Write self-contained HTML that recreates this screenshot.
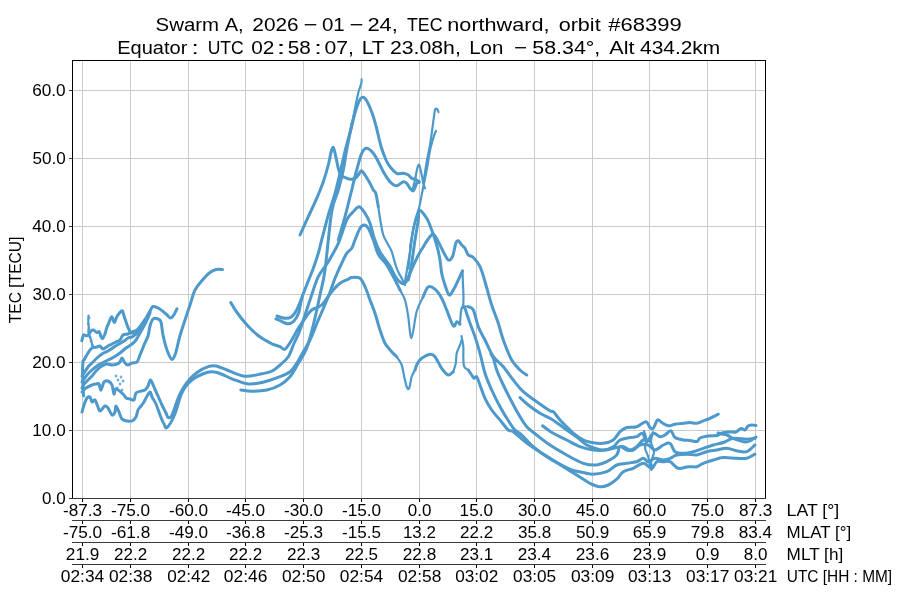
<!DOCTYPE html>
<html><head><meta charset="utf-8"><style>
html,body{margin:0;padding:0;background:#fff;overflow:hidden}
svg{display:block;will-change:transform}
text{font-family:"Liberation Sans", sans-serif;fill:#000}
</style></head><body>
<svg width="900" height="600" viewBox="0 0 900 600">
<rect width="900" height="600" fill="#fff"/>
<g stroke="#cbcbcb" stroke-width="1" shape-rendering="crispEdges">
<line x1="82.5" y1="60" x2="82.5" y2="498"/>
<line x1="130.5" y1="60" x2="130.5" y2="498"/>
<line x1="188.5" y1="60" x2="188.5" y2="498"/>
<line x1="245.5" y1="60" x2="245.5" y2="498"/>
<line x1="303.5" y1="60" x2="303.5" y2="498"/>
<line x1="361.5" y1="60" x2="361.5" y2="498"/>
<line x1="419.5" y1="60" x2="419.5" y2="498"/>
<line x1="476.5" y1="60" x2="476.5" y2="498"/>
<line x1="534.5" y1="60" x2="534.5" y2="498"/>
<line x1="592.5" y1="60" x2="592.5" y2="498"/>
<line x1="649.5" y1="60" x2="649.5" y2="498"/>
<line x1="707.5" y1="60" x2="707.5" y2="498"/>
<line x1="755.5" y1="60" x2="755.5" y2="498"/>
<line x1="72" y1="90.5" x2="765" y2="90.5"/>
<line x1="72" y1="158.5" x2="765" y2="158.5"/>
<line x1="72" y1="226.5" x2="765" y2="226.5"/>
<line x1="72" y1="294.5" x2="765" y2="294.5"/>
<line x1="72" y1="362.5" x2="765" y2="362.5"/>
<line x1="72" y1="430.5" x2="765" y2="430.5"/>
</g>
<g fill="none" stroke="#4d99cb" stroke-width="3.0" stroke-linejoin="round" stroke-linecap="round">
<path d="M81.8 340.8C82.1 339.8 82.8 335.8 83.5 335.0C84.2 334.2 85.2 335.8 86.0 335.8C86.8 335.8 87.7 335.8 88.5 335.0C89.3 334.2 90.2 331.8 91.0 331.0C91.8 330.2 92.5 329.8 93.5 330.0C94.5 330.2 95.8 332.2 96.8 332.5C97.8 332.8 98.6 331.0 99.3 331.7C100.0 332.4 100.4 335.6 101.0 336.7C101.6 337.8 102.0 338.9 102.7 338.3C103.4 337.7 104.5 335.1 105.2 333.3C105.9 331.5 106.1 329.4 106.8 327.5C107.5 325.6 108.5 323.5 109.3 321.7C110.1 319.9 111.0 316.6 111.8 316.7C112.6 316.8 113.5 322.5 114.3 322.5C115.1 322.5 116.0 318.2 116.8 316.7C117.6 315.2 118.4 314.3 119.3 313.3C120.2 312.3 121.5 310.2 122.3 310.8C123.1 311.4 123.4 314.1 124.3 316.7C125.2 319.3 126.7 324.2 127.7 326.7C128.7 329.2 129.2 330.6 130.2 331.7C131.2 332.8 132.2 333.6 133.5 333.3C134.8 333.0 137.2 330.6 138.0 330.0"/>
<path d="M84.0 360.0C84.7 358.8 86.7 355.0 88.0 353.0C89.3 351.0 90.5 349.0 92.0 348.0C93.5 347.0 95.7 347.3 97.0 347.0C98.3 346.7 99.0 345.7 100.0 346.0C101.0 346.3 101.7 349.0 103.0 349.0C104.3 349.0 106.5 346.8 108.0 346.0C109.5 345.2 110.7 344.7 112.0 344.0C113.3 343.3 114.7 342.7 116.0 342.0C117.3 341.3 118.8 341.2 120.0 340.0C121.2 338.8 121.7 336.0 123.0 335.0C124.3 334.0 126.5 334.5 128.0 334.0C129.5 333.5 130.3 332.8 132.0 332.0C133.7 331.2 135.7 331.3 138.0 329.0C140.3 326.7 144.0 321.0 146.0 318.0C148.0 315.0 148.8 312.9 150.0 311.0C151.2 309.1 151.5 306.9 153.0 306.5C154.5 306.1 156.8 307.2 159.0 308.5C161.2 309.8 164.0 312.4 166.0 314.0C168.0 315.6 169.3 318.0 170.8 318.0C172.2 318.0 173.5 315.3 174.5 313.8C175.5 312.2 176.6 309.6 177.0 308.8"/>
<path d="M82.0 376.0C82.3 375.5 83.0 374.5 84.0 373.0C85.0 371.5 86.7 368.7 88.0 367.0C89.3 365.3 90.5 364.5 92.0 363.0C93.5 361.5 95.3 359.5 97.0 358.0C98.7 356.5 100.2 355.2 102.0 354.0C103.8 352.8 106.0 352.2 108.0 351.0C110.0 349.8 112.2 348.2 114.0 347.0C115.8 345.8 117.3 345.0 119.0 344.0C120.7 343.0 122.5 342.0 124.0 341.0C125.5 340.0 126.7 338.7 128.0 338.0C129.3 337.3 130.3 338.0 132.0 337.0C133.7 336.0 135.7 334.8 138.0 332.0C140.3 329.2 144.0 323.3 146.0 320.0C148.0 316.7 149.3 313.3 150.0 312.0"/>
<path d="M82.0 382.0C82.8 380.8 85.3 377.0 87.0 375.0C88.7 373.0 90.3 371.5 92.0 370.0C93.7 368.5 95.3 367.2 97.0 366.0C98.7 364.8 100.2 364.0 102.0 363.0C103.8 362.0 106.0 361.0 108.0 360.0C110.0 359.0 112.0 358.2 114.0 357.0C116.0 355.8 118.0 354.5 120.0 353.0C122.0 351.5 124.0 349.5 126.0 348.0C128.0 346.5 130.3 345.3 132.0 344.0C133.7 342.7 134.7 341.8 136.0 340.0C137.3 338.2 138.3 336.0 140.0 333.0C141.7 330.0 144.3 325.3 146.0 322.0C147.7 318.7 149.3 314.5 150.0 313.0"/>
<path d="M83.0 361.0C82.9 362.8 82.5 368.2 82.5 372.0C82.5 375.8 82.8 380.0 83.0 384.0C83.2 388.0 83.4 394.0 83.5 396.0"/>
<path d="M82.0 388.0C82.3 387.3 83.0 385.3 84.0 384.0C85.0 382.7 86.7 381.3 88.0 380.0C89.3 378.7 90.5 377.7 92.0 376.0C93.5 374.3 95.3 371.7 97.0 370.0C98.7 368.3 100.3 367.0 102.0 366.0C103.7 365.0 105.3 364.2 107.0 364.0C108.7 363.8 110.3 365.0 112.0 365.0C113.7 365.0 115.7 364.5 117.0 364.0C118.3 363.5 119.2 363.0 120.0 362.0C120.8 361.0 121.2 357.8 122.0 358.0C122.8 358.2 124.0 361.8 125.0 363.0C126.0 364.2 126.8 365.0 128.0 365.0C129.2 365.0 130.5 363.5 132.0 363.0C133.5 362.5 135.7 363.3 137.0 362.0C138.3 360.7 138.8 357.8 140.0 355.0C141.2 352.2 142.7 348.2 144.0 345.0C145.3 341.8 147.0 339.2 148.0 336.0C149.0 332.8 149.2 328.8 150.0 326.0C150.8 323.2 151.7 320.2 153.0 319.0C154.3 317.8 156.7 318.5 158.0 319.0C159.3 319.5 160.2 319.3 161.0 322.0C161.8 324.7 162.0 330.3 163.0 335.0C164.0 339.7 165.5 345.9 167.0 350.0C168.5 354.1 170.5 359.1 172.0 359.5C173.5 359.9 174.5 356.2 175.8 352.5C177.0 348.8 178.0 342.9 179.5 337.5C181.0 332.1 183.2 325.4 185.0 320.0C186.8 314.6 188.3 310.0 190.0 305.0C191.7 300.0 192.9 294.2 195.0 290.0C197.1 285.8 200.0 282.9 202.5 280.0C205.0 277.1 207.7 274.2 210.0 272.5C212.3 270.8 214.2 270.0 216.2 269.5C218.3 269.0 221.5 269.5 222.5 269.5"/>
<path d="M82.0 392.0C82.7 391.3 84.3 389.2 86.0 388.0C87.7 386.8 90.3 385.7 92.0 385.0C93.7 384.3 94.8 384.2 96.0 384.0C97.2 383.8 98.2 383.0 99.0 384.0C99.8 385.0 100.2 390.3 101.0 390.0C101.8 389.7 102.8 383.5 104.0 382.0C105.2 380.5 106.7 380.5 108.0 381.0C109.3 381.5 111.0 382.8 112.0 385.0C113.0 387.2 113.3 393.3 114.0 394.0C114.7 394.7 114.5 389.0 116.0 389.0C117.5 389.0 121.3 392.5 123.0 394.0C124.7 395.5 124.8 397.2 126.0 398.0C127.2 398.8 128.7 398.7 130.0 399.0C131.3 399.3 133.0 401.0 134.0 400.0C135.0 399.0 134.8 394.5 136.0 393.0C137.2 391.5 139.5 391.5 141.0 391.0C142.5 390.5 143.8 390.8 145.0 390.0C146.2 389.2 147.1 387.7 148.0 386.0C148.9 384.3 149.5 379.8 150.5 380.0C151.5 380.2 152.8 384.3 154.0 387.0C155.2 389.7 156.7 393.0 158.0 396.0C159.3 399.0 160.7 402.2 162.0 405.0C163.3 407.8 165.0 410.9 166.0 413.0C167.0 415.1 167.2 417.2 168.2 417.5C169.2 417.8 170.1 418.8 172.0 415.0C173.9 411.2 177.0 400.4 179.5 395.0C182.0 389.6 184.1 386.2 187.0 382.5C189.9 378.8 193.2 375.2 197.0 372.5C200.8 369.8 206.2 367.3 209.5 366.2C212.8 365.2 214.1 365.6 217.0 366.2C219.9 366.9 222.4 368.3 227.0 370.0C231.6 371.7 238.7 375.6 244.5 376.2C250.3 376.9 257.4 374.6 262.0 373.8C266.6 372.9 269.0 372.5 272.0 371.0C275.0 369.5 277.3 367.4 280.0 365.0C282.7 362.6 285.9 360.4 288.3 356.7C290.7 353.0 292.2 347.4 294.2 343.0C296.1 338.6 297.4 337.2 300.0 330.0C302.6 322.8 306.9 308.9 310.0 300.0C313.1 291.1 315.2 283.1 318.3 276.7C321.4 270.3 325.0 267.3 328.3 261.7C331.6 256.1 335.2 250.2 338.3 243.3C341.4 236.4 344.2 225.3 346.7 220.0C349.2 214.7 351.2 213.9 353.3 211.7C355.4 209.5 357.2 206.4 359.2 206.7C361.1 207.0 363.2 210.5 365.0 213.3C366.8 216.1 368.4 219.0 370.0 223.3C371.6 227.6 372.8 234.2 374.5 239.0C376.2 243.8 377.4 247.5 380.0 252.0C382.6 256.5 387.3 261.8 389.8 265.8C392.3 269.8 393.3 273.3 395.0 276.0C396.7 278.7 398.3 280.8 400.0 282.0C401.7 283.2 403.3 284.8 405.0 283.3C406.7 281.9 408.1 277.5 410.0 273.3C411.9 269.1 414.5 262.7 416.7 258.3C418.9 253.9 420.7 250.7 423.3 246.7C425.9 242.7 430.0 235.0 432.5 234.2C435.0 233.4 436.5 238.8 438.3 241.7C440.1 244.6 441.6 248.6 443.3 251.7C445.0 254.8 446.8 259.2 448.3 260.0C449.8 260.8 451.2 259.5 452.5 256.7C453.8 253.9 454.8 246.0 455.8 243.3C456.8 240.7 457.3 240.5 458.3 240.8C459.3 241.1 460.6 243.8 461.7 245.0C462.8 246.2 463.9 246.6 465.0 248.3C466.1 250.0 466.9 253.5 468.3 255.0C469.7 256.5 471.4 255.6 473.3 257.5C475.2 259.4 478.1 262.7 480.0 266.7C481.9 270.7 483.1 275.3 485.0 281.7C486.9 288.1 489.5 298.1 491.7 305.0C493.9 311.9 496.4 317.5 498.3 323.3C500.2 329.1 501.1 333.9 503.3 340.0C505.5 346.1 508.9 355.0 511.7 360.0C514.5 365.0 517.5 367.5 520.0 370.0C522.5 372.5 525.6 374.2 526.7 375.0"/>
<path d="M82.0 412.0C82.3 410.8 83.2 407.3 84.0 405.0C84.8 402.7 86.0 399.3 87.0 398.0C88.0 396.7 89.2 396.3 90.0 397.0C90.8 397.7 91.2 401.5 92.0 402.0C92.8 402.5 94.0 399.2 95.0 400.0C96.0 400.8 97.2 405.2 98.0 407.0C98.8 408.8 98.8 411.2 100.0 411.0C101.2 410.8 103.7 406.5 105.0 406.0C106.3 405.5 106.8 406.5 108.0 408.0C109.2 409.5 110.8 414.3 112.0 415.0C113.2 415.7 114.3 413.5 115.0 412.0C115.7 410.5 115.3 406.0 116.0 406.0C116.7 406.0 118.0 409.8 119.0 412.0C120.0 414.2 120.7 417.5 122.0 419.0C123.3 420.5 125.3 420.7 127.0 421.0C128.7 421.3 130.5 421.7 132.0 421.0C133.5 420.3 135.0 418.8 136.0 417.0C137.0 415.2 137.2 411.8 138.0 410.0C138.8 408.2 140.0 407.3 141.0 406.0C142.0 404.7 143.2 403.3 144.0 402.0C144.8 400.7 145.0 399.7 146.0 398.0C147.0 396.3 149.0 392.2 150.0 392.0C151.0 391.8 151.0 395.0 152.0 397.0C153.0 399.0 154.7 401.0 156.0 404.0C157.3 407.0 158.7 411.7 160.0 415.0C161.3 418.3 162.8 421.9 164.0 424.0C165.2 426.1 165.2 429.0 167.0 427.5C168.8 426.0 172.0 420.8 174.5 415.0C177.0 409.2 179.1 398.3 182.0 392.5C184.9 386.7 187.8 383.3 192.0 380.0C196.2 376.7 202.8 373.8 207.0 372.5C211.2 371.2 212.8 371.5 217.0 372.5C221.2 373.5 227.0 376.9 232.0 378.8C237.0 380.6 242.0 383.1 247.0 383.8C252.0 384.4 256.5 383.7 262.0 382.5C267.5 381.3 275.3 378.5 280.0 376.7C284.7 374.9 287.2 373.9 290.0 371.7C292.8 369.5 294.5 366.6 296.7 363.3C298.9 360.0 301.1 355.6 303.3 351.7C305.5 347.8 307.5 345.3 310.0 340.0C312.5 334.7 315.2 327.2 318.3 320.0C321.4 312.8 325.5 303.6 328.3 296.7C331.1 289.8 332.8 283.9 335.0 278.3C337.2 272.7 339.8 267.5 341.7 263.3C343.6 259.1 345.0 255.8 346.7 253.3C348.4 250.8 350.3 250.5 351.7 248.3C353.1 246.1 353.6 243.3 355.0 240.0C356.4 236.7 358.5 230.8 360.0 228.3C361.5 225.8 362.8 225.0 364.2 225.0C365.6 225.0 366.8 225.8 368.3 228.3C369.8 230.8 371.6 235.7 373.3 240.0C375.0 244.3 376.2 250.3 378.3 254.3C380.4 258.3 383.4 260.2 386.0 264.0C388.6 267.8 391.3 273.0 393.6 277.3C395.9 281.6 398.9 287.9 400.0 290.0"/>
<path d="M423.0 297.0C423.9 295.3 426.1 288.2 428.1 286.9C430.1 285.6 432.7 287.3 435.0 289.2C437.3 291.1 439.8 294.8 441.7 298.3C443.6 301.8 444.8 305.4 446.7 310.0C448.6 314.6 451.6 323.9 453.3 325.8C455.0 327.8 455.6 322.0 456.7 321.7C457.8 321.4 459.4 323.8 460.0 324.2"/>
<path d="M468.3 306.7C469.1 307.2 471.6 306.7 473.3 310.0C475.0 313.3 476.4 321.7 478.3 326.7C480.2 331.7 482.5 335.0 485.0 340.0C487.5 345.0 490.2 352.2 493.3 356.7C496.4 361.1 500.0 362.8 503.3 366.7C506.6 370.6 510.0 375.8 513.3 380.0C516.6 384.2 519.4 388.1 523.3 391.7C527.2 395.3 532.2 398.5 536.7 401.7C541.2 404.9 547.2 409.1 550.0 410.8C552.8 412.5 551.6 410.2 553.3 411.7C555.0 413.2 557.5 417.2 560.0 420.0C562.5 422.8 566.1 426.1 568.3 428.3C570.5 430.5 570.8 431.4 573.3 433.3C575.8 435.2 580.2 438.5 583.3 440.0C586.4 441.5 588.4 441.9 591.7 442.5C595.0 443.1 599.7 443.7 603.3 443.3C606.9 442.9 610.5 441.9 613.3 440.0C616.1 438.1 617.8 433.8 620.0 431.7C622.2 429.6 623.9 428.3 626.7 427.5C629.5 426.7 633.5 427.7 636.7 426.7C639.9 425.7 643.6 421.6 645.8 421.7C648.0 421.8 648.8 426.4 650.0 427.5C651.2 428.6 652.0 429.6 653.3 428.3C654.5 427.1 656.1 421.0 657.5 420.0C658.9 419.0 659.9 421.5 661.7 422.5C663.5 423.5 666.1 425.5 668.3 425.8C670.5 426.1 672.5 424.6 675.0 424.2C677.5 423.8 680.8 423.6 683.3 423.3C685.8 423.0 687.8 422.5 690.0 422.5C692.2 422.5 694.5 423.6 696.7 423.3C698.9 423.0 701.1 421.6 703.3 420.8C705.5 420.0 707.5 419.4 710.0 418.3C712.5 417.2 716.9 414.9 718.3 414.2"/>
<path d="M240.8 390.0C242.6 390.2 247.6 391.2 252.0 391.2C256.4 391.2 262.3 391.0 267.0 390.0C271.7 389.0 276.2 387.2 280.0 385.0C283.8 382.8 286.9 380.3 290.0 376.7C293.1 373.1 295.5 368.0 298.3 363.3C301.1 358.6 304.2 354.7 306.7 348.3C309.2 341.9 311.1 333.9 313.3 325.0C315.5 316.1 318.1 304.2 320.0 295.0C321.9 285.8 323.1 283.9 325.0 270.0C326.9 256.1 329.5 225.0 331.7 211.7C333.9 198.4 336.4 196.9 338.3 190.0C340.2 183.1 341.9 176.7 343.3 170.0C344.7 163.3 345.2 157.8 346.7 150.0C348.1 142.2 351.1 127.8 352.0 123.3"/>
<path d="M230.8 302.5C231.8 304.2 234.3 308.8 237.0 312.5C239.7 316.2 243.6 321.2 247.0 325.0C250.4 328.8 254.5 332.5 257.5 335.0C260.5 337.5 262.6 338.5 265.0 340.0C267.4 341.5 269.5 342.6 272.0 343.8C274.5 344.9 277.8 345.8 280.0 346.7C282.2 347.6 283.1 350.3 285.0 349.2C286.9 348.1 289.5 343.5 291.7 340.0C293.9 336.5 296.1 331.9 298.3 328.3C300.5 324.7 302.8 321.4 305.0 318.3C307.2 315.2 308.9 312.2 311.7 310.0C314.5 307.8 318.4 308.1 321.7 305.0C325.0 301.9 328.6 295.3 331.7 291.7C334.8 288.1 337.2 285.4 340.0 283.3C342.8 281.2 346.4 280.2 348.3 279.2C350.2 278.2 349.8 277.6 351.7 277.5C353.6 277.4 357.8 276.8 360.0 278.3C362.2 279.8 363.3 283.1 365.0 286.7C366.7 290.3 368.3 295.6 370.0 300.0C371.7 304.4 373.3 308.3 375.0 313.3C376.7 318.3 378.3 325.0 380.0 330.0C381.7 335.0 383.1 339.7 385.0 343.3C386.9 346.9 389.8 349.5 391.7 351.7C393.6 353.9 395.9 355.9 396.7 356.7"/>
<path d="M415.0 370.0C415.4 368.9 416.4 365.2 417.5 363.3C418.6 361.4 419.6 359.8 421.7 358.3C423.8 356.8 427.8 354.5 430.0 354.2C432.2 353.9 433.1 354.3 435.0 356.7C436.9 359.1 439.5 365.2 441.7 368.3C443.9 371.4 446.4 374.4 448.3 375.0C450.2 375.6 452.5 372.2 453.3 371.7"/>
<path d="M276.0 318.8C276.9 319.2 279.3 320.4 281.2 321.2C283.2 322.1 285.4 323.8 287.5 323.8C289.6 323.8 291.9 323.1 293.8 321.2C295.6 319.4 297.4 316.3 298.8 312.5C300.1 308.7 300.4 302.9 301.7 298.3C303.0 293.7 304.8 290.0 306.7 285.0C308.6 280.0 311.4 273.6 313.3 268.3C315.2 263.0 316.9 258.0 318.3 253.3C319.7 248.6 320.0 246.4 321.7 240.0C323.4 233.6 326.1 222.8 328.3 215.0C330.5 207.2 333.1 200.2 335.0 193.3C336.9 186.4 338.3 180.5 340.0 173.3C341.7 166.1 343.5 157.2 345.3 150.0C347.1 142.8 349.1 136.0 350.7 130.0C352.3 124.0 353.4 118.7 354.7 114.0C356.0 109.3 357.4 104.8 358.7 102.0C360.0 99.2 361.4 97.5 362.7 97.3C364.0 97.1 365.1 98.1 366.7 100.7C368.2 103.3 370.4 108.5 372.0 112.7C373.6 116.9 374.4 120.2 376.0 126.0C377.6 131.8 379.6 141.6 381.3 147.3C383.0 153.0 384.6 156.8 386.0 160.0C387.4 163.2 388.2 164.5 390.0 166.7C391.8 168.9 394.5 172.2 396.7 173.3C398.9 174.4 401.4 173.0 403.3 173.3C405.2 173.6 406.9 174.2 408.3 175.0C409.7 175.8 410.3 177.5 411.7 178.3C413.1 179.1 415.4 179.3 416.7 180.0C417.9 180.7 418.8 182.1 419.2 182.5"/>
<path d="M277.0 316.0C278.3 316.4 282.6 318.2 285.0 318.3C287.4 318.4 289.8 318.1 291.7 316.7C293.6 315.3 295.0 313.1 296.7 310.0C298.4 306.9 300.9 300.2 301.7 298.3"/>
<path d="M300.0 235.0C301.4 231.9 305.5 222.8 308.3 216.7C311.1 210.6 314.2 204.1 316.7 198.3C319.2 192.5 321.4 187.2 323.3 181.7C325.2 176.1 327.1 169.7 328.3 165.0C329.6 160.3 330.0 156.2 330.8 153.3C331.6 150.4 332.5 146.9 333.3 147.5C334.1 148.1 335.0 153.2 335.8 156.7C336.6 160.2 337.5 165.2 338.3 168.3C339.1 171.4 339.7 173.5 340.8 175.0C341.9 176.5 343.5 176.8 345.0 177.5C346.5 178.2 348.3 179.1 350.0 179.2C351.7 179.3 353.6 179.0 355.0 178.3C356.4 177.6 357.2 176.2 358.3 175.0C359.4 173.8 360.2 170.8 361.3 170.8C362.4 170.8 363.6 172.9 365.0 175.0C366.4 177.1 368.6 180.8 370.0 183.3C371.4 185.8 372.3 188.3 373.3 190.0C374.3 191.7 375.0 190.5 375.8 193.3C376.6 196.1 377.9 204.5 378.3 206.7"/>
<path d="M338.3 240.0C339.4 236.1 342.8 225.0 345.0 216.7C347.2 208.4 349.8 197.8 351.7 190.0C353.6 182.2 355.0 176.1 356.7 170.0C358.4 163.9 360.0 156.9 361.7 153.3C363.4 149.7 364.8 148.3 366.7 148.3C368.6 148.3 371.4 151.1 373.3 153.3C375.2 155.5 376.6 158.6 378.3 161.7C380.0 164.8 381.4 168.4 383.3 171.7C385.2 175.0 387.8 179.3 390.0 181.7C392.2 184.0 394.5 185.8 396.7 185.8C398.9 185.8 401.6 182.1 403.3 181.7C405.0 181.3 405.6 182.2 406.7 183.3C407.8 184.4 408.9 187.1 410.0 188.3C411.1 189.6 412.2 191.6 413.3 190.8C414.4 190.0 415.7 184.8 416.7 183.3C417.7 181.8 418.8 182.0 419.2 181.7"/>
<path d="M408.3 280.0C408.9 277.2 410.6 270.0 411.7 263.3C412.8 256.6 413.9 247.2 415.0 240.0C416.1 232.8 417.6 225.0 418.3 220.0C419.0 215.0 417.8 210.3 419.2 210.0C420.6 209.7 424.6 215.0 426.7 218.3C428.8 221.6 430.0 225.6 431.7 230.0C433.4 234.4 435.3 240.0 436.7 245.0C438.1 250.0 439.2 255.3 440.0 260.0C440.8 264.7 440.9 269.1 441.7 273.3C442.5 277.5 443.8 281.4 445.0 285.0C446.2 288.6 447.8 294.2 449.2 295.0C450.6 295.8 451.9 292.2 453.3 290.0C454.7 287.8 456.0 284.9 457.5 281.7C459.0 278.5 461.7 272.6 462.5 270.8"/>
<path d="M465.0 308.3C465.8 310.8 468.3 318.6 470.0 323.3C471.7 328.0 473.3 331.7 475.0 336.7C476.7 341.7 478.3 347.2 480.0 353.3C481.7 359.4 483.1 367.2 485.0 373.3C486.9 379.4 489.2 384.4 491.7 390.0C494.2 395.6 496.9 401.1 500.0 406.7C503.1 412.2 507.5 419.4 510.0 423.3C512.5 427.2 513.0 428.1 515.0 430.0C517.0 431.9 518.7 432.2 521.7 435.0C524.8 437.8 529.1 443.1 533.3 446.7C537.5 450.3 542.5 453.9 546.7 456.7C550.9 459.5 554.1 461.1 558.3 463.3C562.5 465.5 567.5 468.5 571.7 470.0C575.9 471.5 579.7 471.8 583.3 472.5C586.9 473.2 589.4 474.3 593.3 474.2C597.2 474.1 602.8 473.2 606.7 471.7C610.6 470.2 613.4 466.4 616.7 465.0C620.0 463.6 623.4 463.9 626.7 463.3C630.0 462.8 633.9 462.5 636.7 461.7C639.5 460.9 641.4 458.3 643.3 458.3C645.2 458.3 646.3 461.7 648.3 461.7C650.2 461.7 652.5 458.6 655.0 458.3C657.5 458.0 660.8 460.0 663.3 460.0C665.8 460.0 667.8 459.1 670.0 458.3C672.2 457.5 673.9 455.7 676.7 455.0C679.5 454.3 683.4 454.2 686.7 454.2C690.0 454.2 693.4 455.4 696.7 455.0C700.0 454.6 703.4 452.5 706.7 451.7C710.0 450.9 713.4 450.6 716.7 450.0C720.0 449.4 723.4 448.2 726.7 448.3C730.0 448.4 733.4 450.2 736.7 450.8C740.0 451.4 743.7 452.7 746.7 451.7C749.8 450.7 753.6 446.1 755.0 445.0"/>
<path d="M491.0 354.0C491.4 354.8 492.6 355.8 493.5 358.5C494.4 361.2 495.1 365.6 496.7 370.0C498.3 374.4 500.8 379.7 503.3 385.0C505.8 390.3 508.9 396.4 511.7 401.7C514.5 407.0 517.5 412.5 520.0 416.7C522.5 420.9 523.9 423.6 526.7 426.7C529.5 429.8 532.8 431.9 536.7 435.0C540.6 438.1 545.0 441.7 550.0 445.0C555.0 448.3 561.2 451.9 566.7 455.0C572.2 458.1 578.3 461.6 583.3 463.3C588.3 465.0 592.8 465.3 596.7 465.0C600.6 464.7 603.4 463.4 606.7 461.7C610.0 460.0 614.5 457.5 616.7 455.0C618.9 452.5 618.3 447.5 620.0 446.7C621.7 445.9 624.5 449.4 626.7 450.0C628.9 450.6 631.1 450.8 633.3 450.0C635.5 449.2 637.5 445.8 640.0 445.0C642.5 444.2 645.8 444.2 648.3 445.0C650.8 445.8 652.5 450.0 655.0 450.0C657.5 450.0 660.8 446.1 663.3 445.0C665.8 443.9 668.0 442.2 670.0 443.3C672.0 444.4 672.8 450.0 675.0 451.7C677.2 453.4 680.2 453.3 683.3 453.3C686.3 453.3 690.0 452.5 693.3 451.7C696.6 450.9 700.0 449.4 703.3 448.3C706.6 447.2 710.0 446.0 713.3 445.0C716.6 444.0 720.0 443.6 723.3 442.5C726.6 441.4 729.4 438.9 733.3 438.3C737.2 437.8 743.1 439.2 746.7 439.2C750.3 439.2 753.6 438.4 755.0 438.3"/>
<path d="M468.3 370.0C468.9 370.8 470.7 373.6 471.7 375.0C472.7 376.4 473.4 378.0 474.2 378.3C475.0 378.6 475.7 375.6 476.7 376.7C477.7 377.8 478.6 381.4 480.0 385.0C481.4 388.6 483.1 394.1 485.0 398.3C486.9 402.5 489.2 406.4 491.7 410.0C494.2 413.6 497.2 416.7 500.0 420.0C502.8 423.3 506.1 428.1 508.3 430.0C510.5 431.9 510.5 429.8 513.3 431.7C516.1 433.6 521.1 438.6 525.0 441.7C528.9 444.8 532.5 447.2 536.7 450.0C540.9 452.8 545.6 455.5 550.0 458.3C554.4 461.1 558.8 463.9 563.3 466.7C567.8 469.5 572.2 472.2 576.7 475.0C581.2 477.8 586.1 481.4 590.0 483.3C593.9 485.2 597.0 486.4 600.0 486.7C603.0 487.0 605.5 486.2 608.3 485.0C611.1 483.8 614.2 481.4 616.7 479.2C619.2 477.0 620.5 473.5 623.3 471.7C626.1 469.9 630.0 469.7 633.3 468.3C636.6 466.9 640.2 463.3 643.3 463.3C646.4 463.3 649.5 468.6 651.7 468.3C653.9 468.0 654.8 462.8 656.7 461.7C658.6 460.6 661.1 461.7 663.3 461.7C665.5 461.7 667.5 460.6 670.0 461.7C672.5 462.8 675.2 467.5 678.3 468.3C681.3 469.1 685.2 467.0 688.3 466.7C691.4 466.4 694.2 467.3 696.7 466.7C699.2 466.1 700.5 464.4 703.3 463.3C706.1 462.2 710.0 461.0 713.3 460.0C716.6 459.0 719.4 457.8 723.3 457.5C727.2 457.2 732.8 458.2 736.7 458.3C740.6 458.4 743.7 459.0 746.7 458.3C749.8 457.6 753.6 454.9 755.0 454.2"/>
<path d="M520.0 397.5C521.4 398.8 525.0 402.4 528.3 405.0C531.6 407.6 536.4 411.1 540.0 413.3C543.6 415.5 546.7 416.4 550.0 418.3C553.3 420.2 557.2 423.1 560.0 425.0C562.8 426.9 563.7 427.8 566.7 430.0C569.8 432.2 575.0 435.8 578.3 438.3C581.6 440.8 583.9 443.3 586.7 445.0C589.5 446.7 592.2 447.5 595.0 448.3C597.8 449.1 600.2 450.3 603.3 450.0C606.3 449.7 610.5 448.4 613.3 446.7C616.1 445.0 617.2 441.5 620.0 440.0C622.8 438.5 627.2 438.1 630.0 437.5C632.8 436.9 634.6 437.4 636.7 436.7C638.8 436.0 640.8 432.5 642.5 433.3C644.2 434.1 644.9 441.7 646.7 441.7C648.5 441.7 651.1 434.1 653.3 433.3C655.5 432.5 658.0 436.4 660.0 436.7C662.0 437.0 663.2 436.0 665.0 435.0C666.8 434.0 669.1 430.4 670.8 430.8C672.5 431.2 672.9 436.0 675.0 437.5C677.1 439.0 680.8 439.5 683.3 440.0C685.8 440.5 687.7 440.2 690.0 440.5C692.3 440.8 695.3 441.9 697.0 441.5C698.7 441.1 698.2 438.9 700.0 438.0C701.8 437.1 705.2 436.4 708.0 436.0C710.8 435.6 714.7 436.0 717.0 435.5C719.3 435.0 719.8 433.6 722.0 433.0C724.2 432.4 727.7 432.2 730.0 432.0C732.3 431.8 734.2 432.6 736.0 432.0C737.8 431.4 739.5 428.8 741.0 428.5C742.5 428.2 743.8 430.4 745.0 430.0C746.2 429.6 746.8 426.8 748.0 426.0C749.2 425.2 750.7 425.1 752.0 425.0C753.3 424.9 755.3 425.4 756.0 425.5"/>
<path d="M542.5 425.8C544.3 427.1 549.3 430.9 553.3 433.3C557.3 435.7 562.2 437.8 566.7 440.0C571.2 442.2 575.6 445.0 580.0 446.7C584.4 448.4 588.8 449.4 593.3 450.0C597.8 450.6 602.8 450.4 606.7 450.0C610.6 449.6 613.9 448.1 616.7 447.5C619.5 446.9 621.1 446.3 623.3 446.7C625.5 447.1 627.8 450.0 630.0 450.0C632.2 450.0 634.5 448.4 636.7 446.7C638.9 445.0 641.1 440.9 643.3 440.0C645.5 439.1 648.9 440.8 650.0 441.0"/>
<path d="M718.0 433.0C718.7 433.2 720.5 433.7 722.0 434.0C723.5 434.3 725.3 434.3 727.0 435.0C728.7 435.7 730.2 437.2 732.0 438.0C733.8 438.8 735.8 439.3 738.0 440.0C740.2 440.7 743.0 441.8 745.0 442.0C747.0 442.2 748.2 441.8 750.0 441.0C751.8 440.2 755.0 437.7 756.0 437.0"/>
</g>
<g fill="none" stroke="#4d99cb" stroke-width="2.2" stroke-linejoin="round" stroke-linecap="round">
<path d="M644.0 431.0C644.4 432.5 646.3 437.2 646.5 440.0C646.7 442.8 644.8 445.3 645.0 448.0C645.2 450.7 647.2 453.2 648.0 456.0C648.8 458.8 649.4 462.7 650.0 465.0C650.6 467.3 651.2 469.2 651.5 470.0"/>
<path d="M653.0 432.0C652.7 433.7 650.8 438.7 651.0 442.0C651.2 445.3 654.0 448.7 654.0 452.0C654.0 455.3 651.2 459.3 651.0 462.0C650.8 464.7 652.7 467.0 653.0 468.0"/>
<path d="M88.5 315.5C88.5 316.6 88.2 319.9 88.3 322.0C88.3 324.1 88.8 326.2 88.8 328.0C88.8 329.8 88.1 331.0 88.5 333.0C88.9 335.0 90.3 337.7 91.0 340.0C91.7 342.3 92.4 345.6 92.7 346.7"/>
<path d="M462.5 270.8C462.6 273.2 462.8 280.5 463.0 285.0C463.2 289.5 463.5 294.2 463.5 298.0C463.5 301.8 463.1 306.3 463.0 308.0"/>
<path d="M378.3 206.7C378.6 208.6 379.2 213.6 380.0 218.3C380.8 223.0 381.9 230.6 383.3 235.0C384.7 239.4 386.9 242.2 388.3 245.0C389.7 247.8 390.3 247.8 391.7 251.7C393.1 255.6 395.0 263.9 396.7 268.3C398.4 272.7 400.3 275.5 401.7 278.3C403.1 281.1 404.4 283.9 405.0 285.0"/>
<path d="M405.0 281.7C405.8 276.7 408.6 260.6 410.0 251.7C411.4 242.8 412.2 233.9 413.3 228.3C414.4 222.7 415.7 221.4 416.7 218.3C417.7 215.2 418.9 211.4 419.3 210.0"/>
<path d="M408.3 268.3C408.9 263.3 410.6 246.1 411.7 238.3C412.8 230.5 413.9 225.8 415.0 221.7C416.1 217.6 417.5 215.3 418.0 214.0"/>
<path d="M413.0 188.0C413.3 186.7 414.3 183.3 415.0 180.0C415.7 176.7 416.6 170.8 417.3 168.3C418.0 165.8 418.6 163.9 419.3 165.0C420.0 166.1 421.0 171.9 421.7 175.0C422.4 178.1 422.8 181.1 423.3 183.3C423.9 185.5 424.7 187.5 425.0 188.3"/>
<path d="M423.3 183.3C423.9 179.7 425.6 168.1 426.7 161.7C427.8 155.3 428.9 151.7 430.0 145.0C431.1 138.3 432.5 127.5 433.3 121.7C434.1 115.9 434.4 112.1 435.0 110.0C435.6 107.9 436.4 108.7 437.0 109.0C437.6 109.3 438.2 111.5 438.5 112.0"/>
<path d="M410.0 246.7C410.9 242.2 413.8 226.6 415.3 220.0C416.9 213.4 418.2 211.4 419.3 207.0C420.4 202.6 421.1 197.8 422.0 193.3C422.9 188.8 423.8 184.4 424.7 180.0C425.6 175.6 426.4 171.6 427.3 166.7C428.2 161.8 429.1 155.1 430.0 150.7C430.9 146.2 431.9 142.9 432.7 140.0C433.5 137.1 434.4 134.5 435.0 133.0C435.6 131.5 435.8 131.3 436.0 131.0"/>
<path d="M400.0 290.0C400.9 291.7 403.8 296.1 405.1 300.3C406.4 304.5 406.9 308.7 408.0 315.0C409.1 321.3 410.1 338.5 411.5 338.0C412.9 337.5 414.7 318.6 416.6 311.8C418.5 305.0 421.9 299.5 423.0 297.0"/>
<path d="M460.0 324.2C460.1 322.4 460.4 316.2 460.8 313.3C461.2 310.4 461.2 307.8 462.5 306.7C463.8 305.6 467.3 306.7 468.3 306.7"/>
<path d="M352.0 123.3C352.7 120.0 354.9 108.6 356.0 103.3C357.1 98.0 357.8 94.6 358.7 91.3C359.6 88.0 360.8 85.3 361.3 83.3C361.8 81.3 361.6 80.0 361.6 79.3"/>
<path d="M396.7 356.7C397.5 358.1 400.4 361.7 401.7 365.0C402.9 368.3 403.4 373.1 404.2 376.7C405.0 380.3 405.9 384.8 406.7 386.7C407.5 388.6 408.4 390.0 409.2 388.3C410.0 386.6 410.7 379.8 411.7 376.7C412.7 373.6 414.4 371.1 415.0 370.0"/>
<path d="M453.3 371.7C453.7 370.3 455.2 366.4 455.8 363.3C456.4 360.2 456.0 356.4 456.7 353.3C457.4 350.2 459.2 347.2 460.0 345.0C460.8 342.8 461.4 340.8 461.7 340.0"/>
<path d="M461.5 336.0C461.8 337.8 463.0 343.2 463.3 346.7C463.6 350.1 463.2 353.4 463.3 356.7C463.4 360.0 463.4 364.5 464.2 366.7C465.0 368.9 467.6 369.4 468.3 370.0"/>
</g>
<g fill="none" stroke="#4d99cb" stroke-width="1.1">
<path d="M87.6 318.0h2.8M89.0 316.6v2.8M86.9 324.0h2.8M88.3 322.6v2.8M87.4 329.0h2.8M88.8 327.6v2.8M88.6 337.0h2.8M90.0 335.6v2.8M89.6 341.0h2.8M91.0 339.6v2.8M90.9 345.0h2.8M92.3 343.6v2.8"/>
<path d="M114.6 376.0h2.8M116.0 374.6v2.8M116.6 380.0h2.8M118.0 378.6v2.8M118.6 384.0h2.8M120.0 382.6v2.8M115.6 388.0h2.8M117.0 386.6v2.8M120.6 390.0h2.8M122.0 388.6v2.8M119.6 377.0h2.8M121.0 375.6v2.8M121.6 381.0h2.8M123.0 379.6v2.8"/>
</g>
<g stroke="#000" stroke-width="1" shape-rendering="crispEdges" fill="none">
<line x1="72.5" y1="60" x2="72.5" y2="499"/>
<line x1="765.5" y1="60" x2="765.5" y2="499"/>
<line x1="72" y1="60.5" x2="766" y2="60.5"/>
<line x1="82.5" y1="499" x2="82.5" y2="502"/>
<line x1="82.5" y1="521" x2="82.5" y2="524"/>
<line x1="82.5" y1="543" x2="82.5" y2="546"/>
<line x1="82.5" y1="565" x2="82.5" y2="568"/>
<line x1="130.5" y1="499" x2="130.5" y2="502"/>
<line x1="130.5" y1="521" x2="130.5" y2="524"/>
<line x1="130.5" y1="543" x2="130.5" y2="546"/>
<line x1="130.5" y1="565" x2="130.5" y2="568"/>
<line x1="188.5" y1="499" x2="188.5" y2="502"/>
<line x1="188.5" y1="521" x2="188.5" y2="524"/>
<line x1="188.5" y1="543" x2="188.5" y2="546"/>
<line x1="188.5" y1="565" x2="188.5" y2="568"/>
<line x1="245.5" y1="499" x2="245.5" y2="502"/>
<line x1="245.5" y1="521" x2="245.5" y2="524"/>
<line x1="245.5" y1="543" x2="245.5" y2="546"/>
<line x1="245.5" y1="565" x2="245.5" y2="568"/>
<line x1="303.5" y1="499" x2="303.5" y2="502"/>
<line x1="303.5" y1="521" x2="303.5" y2="524"/>
<line x1="303.5" y1="543" x2="303.5" y2="546"/>
<line x1="303.5" y1="565" x2="303.5" y2="568"/>
<line x1="361.5" y1="499" x2="361.5" y2="502"/>
<line x1="361.5" y1="521" x2="361.5" y2="524"/>
<line x1="361.5" y1="543" x2="361.5" y2="546"/>
<line x1="361.5" y1="565" x2="361.5" y2="568"/>
<line x1="419.5" y1="499" x2="419.5" y2="502"/>
<line x1="419.5" y1="521" x2="419.5" y2="524"/>
<line x1="419.5" y1="543" x2="419.5" y2="546"/>
<line x1="419.5" y1="565" x2="419.5" y2="568"/>
<line x1="476.5" y1="499" x2="476.5" y2="502"/>
<line x1="476.5" y1="521" x2="476.5" y2="524"/>
<line x1="476.5" y1="543" x2="476.5" y2="546"/>
<line x1="476.5" y1="565" x2="476.5" y2="568"/>
<line x1="534.5" y1="499" x2="534.5" y2="502"/>
<line x1="534.5" y1="521" x2="534.5" y2="524"/>
<line x1="534.5" y1="543" x2="534.5" y2="546"/>
<line x1="534.5" y1="565" x2="534.5" y2="568"/>
<line x1="592.5" y1="499" x2="592.5" y2="502"/>
<line x1="592.5" y1="521" x2="592.5" y2="524"/>
<line x1="592.5" y1="543" x2="592.5" y2="546"/>
<line x1="592.5" y1="565" x2="592.5" y2="568"/>
<line x1="649.5" y1="499" x2="649.5" y2="502"/>
<line x1="649.5" y1="521" x2="649.5" y2="524"/>
<line x1="649.5" y1="543" x2="649.5" y2="546"/>
<line x1="649.5" y1="565" x2="649.5" y2="568"/>
<line x1="707.5" y1="499" x2="707.5" y2="502"/>
<line x1="707.5" y1="521" x2="707.5" y2="524"/>
<line x1="707.5" y1="543" x2="707.5" y2="546"/>
<line x1="707.5" y1="565" x2="707.5" y2="568"/>
<line x1="755.5" y1="499" x2="755.5" y2="502"/>
<line x1="755.5" y1="521" x2="755.5" y2="524"/>
<line x1="755.5" y1="543" x2="755.5" y2="546"/>
<line x1="755.5" y1="565" x2="755.5" y2="568"/>
</g>
<g stroke="#3a3a3a" stroke-width="1" shape-rendering="crispEdges" fill="none">
<line x1="69" y1="498.5" x2="766" y2="498.5"/>
<line x1="72" y1="520.5" x2="766" y2="520.5"/>
<line x1="72" y1="542.5" x2="766" y2="542.5"/>
<line x1="72" y1="564.5" x2="766" y2="564.5"/>
<line x1="68.5" y1="90.5" x2="72" y2="90.5"/>
<line x1="68.5" y1="158.5" x2="72" y2="158.5"/>
<line x1="68.5" y1="226.5" x2="72" y2="226.5"/>
<line x1="68.5" y1="294.5" x2="72" y2="294.5"/>
<line x1="68.5" y1="362.5" x2="72" y2="362.5"/>
<line x1="68.5" y1="430.5" x2="72" y2="430.5"/>
</g>
<text x="63.06" y="516" font-size="16.2" textLength="39.08" lengthAdjust="spacingAndGlyphs">-87.3</text>
<text x="110.95" y="516" font-size="16.2" textLength="39.21" lengthAdjust="spacingAndGlyphs">-75.0</text>
<text x="168.95" y="516" font-size="16.2" textLength="39.21" lengthAdjust="spacingAndGlyphs">-60.0</text>
<text x="225.95" y="516" font-size="16.2" textLength="39.21" lengthAdjust="spacingAndGlyphs">-45.0</text>
<text x="283.95" y="516" font-size="16.2" textLength="39.21" lengthAdjust="spacingAndGlyphs">-30.0</text>
<text x="341.95" y="516" font-size="16.2" textLength="39.21" lengthAdjust="spacingAndGlyphs">-15.0</text>
<text x="407.8" y="516" font-size="16.2" textLength="23.6" lengthAdjust="spacingAndGlyphs">0.0</text>
<text x="459.63" y="516" font-size="16.2" textLength="33.3" lengthAdjust="spacingAndGlyphs">15.0</text>
<text x="518.03" y="516" font-size="16.2" textLength="33.16" lengthAdjust="spacingAndGlyphs">30.0</text>
<text x="576.08" y="516" font-size="16.2" textLength="33.32" lengthAdjust="spacingAndGlyphs">45.0</text>
<text x="632.76" y="516" font-size="16.2" textLength="33.49" lengthAdjust="spacingAndGlyphs">60.0</text>
<text x="690.85" y="516" font-size="16.2" textLength="33.3" lengthAdjust="spacingAndGlyphs">75.0</text>
<text x="738.98" y="516" font-size="16.2" textLength="33.25" lengthAdjust="spacingAndGlyphs">87.3</text>
<text x="62.95" y="538" font-size="16.2" textLength="39.21" lengthAdjust="spacingAndGlyphs">-75.0</text>
<text x="110.96" y="538" font-size="16.2" textLength="39.26" lengthAdjust="spacingAndGlyphs">-61.8</text>
<text x="168.95" y="538" font-size="16.2" textLength="39.21" lengthAdjust="spacingAndGlyphs">-49.0</text>
<text x="225.96" y="538" font-size="16.2" textLength="39.26" lengthAdjust="spacingAndGlyphs">-36.8</text>
<text x="284.06" y="538" font-size="16.2" textLength="39.08" lengthAdjust="spacingAndGlyphs">-25.3</text>
<text x="342.11" y="538" font-size="16.2" textLength="38.93" lengthAdjust="spacingAndGlyphs">-15.5</text>
<text x="402.9" y="538" font-size="16.2" textLength="32.96" lengthAdjust="spacingAndGlyphs">13.2</text>
<text x="460.06" y="538" font-size="16.2" textLength="33.08" lengthAdjust="spacingAndGlyphs">22.2</text>
<text x="518.04" y="538" font-size="16.2" textLength="33.2" lengthAdjust="spacingAndGlyphs">35.8</text>
<text x="576.03" y="538" font-size="16.2" textLength="33.26" lengthAdjust="spacingAndGlyphs">50.9</text>
<text x="632.78" y="538" font-size="16.2" textLength="33.57" lengthAdjust="spacingAndGlyphs">65.9</text>
<text x="690.86" y="538" font-size="16.2" textLength="33.35" lengthAdjust="spacingAndGlyphs">79.8</text>
<text x="738.79" y="538" font-size="16.2" textLength="33.37" lengthAdjust="spacingAndGlyphs">83.4</text>
<text x="65.82" y="559.8" font-size="16.2" textLength="33.51" lengthAdjust="spacingAndGlyphs">21.9</text>
<text x="114.06" y="559.8" font-size="16.2" textLength="33.08" lengthAdjust="spacingAndGlyphs">22.2</text>
<text x="172.06" y="559.8" font-size="16.2" textLength="33.08" lengthAdjust="spacingAndGlyphs">22.2</text>
<text x="229.06" y="559.8" font-size="16.2" textLength="33.08" lengthAdjust="spacingAndGlyphs">22.2</text>
<text x="286.9" y="559.8" font-size="16.2" textLength="33.29" lengthAdjust="spacingAndGlyphs">22.3</text>
<text x="344.96" y="559.8" font-size="16.2" textLength="33.14" lengthAdjust="spacingAndGlyphs">22.5</text>
<text x="402.81" y="559.8" font-size="16.2" textLength="33.47" lengthAdjust="spacingAndGlyphs">22.8</text>
<text x="460.0" y="559.8" font-size="16.2" textLength="33.18" lengthAdjust="spacingAndGlyphs">23.1</text>
<text x="517.71" y="559.8" font-size="16.2" textLength="33.41" lengthAdjust="spacingAndGlyphs">23.4</text>
<text x="575.76" y="559.8" font-size="16.2" textLength="33.57" lengthAdjust="spacingAndGlyphs">23.6</text>
<text x="632.82" y="559.8" font-size="16.2" textLength="33.51" lengthAdjust="spacingAndGlyphs">23.9</text>
<text x="695.82" y="559.8" font-size="16.2" textLength="23.69" lengthAdjust="spacingAndGlyphs">0.9</text>
<text x="743.74" y="559.8" font-size="16.2" textLength="23.65" lengthAdjust="spacingAndGlyphs">8.0</text>
<text x="60.84" y="581.6" font-size="16.2" textLength="43.35" lengthAdjust="spacingAndGlyphs">02:34</text>
<text x="108.93" y="581.6" font-size="16.2" textLength="43.41" lengthAdjust="spacingAndGlyphs">02:38</text>
<text x="167.18" y="581.6" font-size="16.2" textLength="43.03" lengthAdjust="spacingAndGlyphs">02:42</text>
<text x="223.89" y="581.6" font-size="16.2" textLength="43.51" lengthAdjust="spacingAndGlyphs">02:46</text>
<text x="281.92" y="581.6" font-size="16.2" textLength="43.37" lengthAdjust="spacingAndGlyphs">02:50</text>
<text x="339.84" y="581.6" font-size="16.2" textLength="43.35" lengthAdjust="spacingAndGlyphs">02:54</text>
<text x="397.93" y="581.6" font-size="16.2" textLength="43.41" lengthAdjust="spacingAndGlyphs">02:58</text>
<text x="455.18" y="581.6" font-size="16.2" textLength="43.03" lengthAdjust="spacingAndGlyphs">03:02</text>
<text x="513.08" y="581.6" font-size="16.2" textLength="43.09" lengthAdjust="spacingAndGlyphs">03:05</text>
<text x="570.95" y="581.6" font-size="16.2" textLength="43.45" lengthAdjust="spacingAndGlyphs">03:09</text>
<text x="628.02" y="581.6" font-size="16.2" textLength="43.24" lengthAdjust="spacingAndGlyphs">03:13</text>
<text x="686.06" y="581.6" font-size="16.2" textLength="43.27" lengthAdjust="spacingAndGlyphs">03:17</text>
<text x="734.12" y="581.6" font-size="16.2" textLength="43.13" lengthAdjust="spacingAndGlyphs">03:21</text>
<text x="786.59" y="516" font-size="16.2" textLength="52.63" lengthAdjust="spacingAndGlyphs">LAT [°]</text>
<text x="786.64" y="538" font-size="16.2" textLength="64.54" lengthAdjust="spacingAndGlyphs">MLAT [°]</text>
<text x="786.63" y="559.8" font-size="16.2" textLength="56.56" lengthAdjust="spacingAndGlyphs">MLT [h]</text>
<text x="786.81" y="581.6" font-size="16.2" textLength="105.29" lengthAdjust="spacingAndGlyphs">UTC [HH : MM]</text>
<text x="32.19" y="95.6" font-size="16.2" textLength="33.49" lengthAdjust="spacingAndGlyphs">60.0</text>
<text x="32.49" y="163.6" font-size="16.2" textLength="33.18" lengthAdjust="spacingAndGlyphs">50.0</text>
<text x="32.35" y="231.6" font-size="16.2" textLength="33.32" lengthAdjust="spacingAndGlyphs">40.0</text>
<text x="32.51" y="299.6" font-size="16.2" textLength="33.16" lengthAdjust="spacingAndGlyphs">30.0</text>
<text x="32.25" y="367.6" font-size="16.2" textLength="33.42" lengthAdjust="spacingAndGlyphs">20.0</text>
<text x="32.37" y="435.6" font-size="16.2" textLength="33.3" lengthAdjust="spacingAndGlyphs">10.0</text>
<text x="42.06" y="503.6" font-size="16.2" textLength="23.6" lengthAdjust="spacingAndGlyphs">0.0</text>
<text x="-42.85" y="0" font-size="16.2" transform="translate(21,280.3) rotate(-90)" textLength="86.46" lengthAdjust="spacingAndGlyphs">TEC [TECU]</text>
<text x="155.57" y="31.0" font-size="18.9" textLength="63.47" lengthAdjust="spacingAndGlyphs">Swarm</text>
<text x="224.66" y="31.0" font-size="18.9" textLength="18.94" lengthAdjust="spacingAndGlyphs">A,</text>
<text x="252.35" y="31.0" font-size="18.9" textLength="46.36" lengthAdjust="spacingAndGlyphs">2026</text>
<text x="303.62" y="31.0" font-size="18.9" textLength="13.94" lengthAdjust="spacingAndGlyphs">−</text>
<text x="321.9" y="31.0" font-size="18.9" textLength="22.8" lengthAdjust="spacingAndGlyphs">01</text>
<text x="349.52" y="31.0" font-size="18.9" textLength="13.94" lengthAdjust="spacingAndGlyphs">−</text>
<text x="367.4" y="31.0" font-size="18.9" textLength="30.36" lengthAdjust="spacingAndGlyphs">24,</text>
<text x="407.0" y="31.0" font-size="18.9" textLength="35.47" lengthAdjust="spacingAndGlyphs">TEC</text>
<text x="447.37" y="31.0" font-size="18.9" textLength="102.08" lengthAdjust="spacingAndGlyphs">northward,</text>
<text x="558.69" y="31.0" font-size="18.9" textLength="41.96" lengthAdjust="spacingAndGlyphs">orbit</text>
<text x="608.2" y="31.0" font-size="18.9" textLength="73.44" lengthAdjust="spacingAndGlyphs">#68399</text>
<text x="117.16" y="53.9" font-size="18.9" textLength="70.18" lengthAdjust="spacingAndGlyphs">Equator</text>
<text x="191.6" y="53.9" font-size="18.9" textLength="7.29" lengthAdjust="spacingAndGlyphs">:</text>
<text x="207.65" y="53.9" font-size="18.9" textLength="36.02" lengthAdjust="spacingAndGlyphs">UTC</text>
<text x="251.19" y="53.9" font-size="18.9" textLength="23.16" lengthAdjust="spacingAndGlyphs">02</text>
<text x="276.63" y="53.9" font-size="18.9" textLength="9.05" lengthAdjust="spacingAndGlyphs">:</text>
<text x="287.87" y="53.9" font-size="18.9" textLength="23.03" lengthAdjust="spacingAndGlyphs">58</text>
<text x="314.21" y="53.9" font-size="18.9" textLength="7.59" lengthAdjust="spacingAndGlyphs">:</text>
<text x="324.47" y="53.9" font-size="18.9" textLength="29.43" lengthAdjust="spacingAndGlyphs">07,</text>
<text x="361.67" y="53.9" font-size="18.9" textLength="23.19" lengthAdjust="spacingAndGlyphs">LT</text>
<text x="390.03" y="53.9" font-size="18.9" textLength="70.77" lengthAdjust="spacingAndGlyphs">23.08h,</text>
<text x="469.22" y="53.9" font-size="18.9" textLength="34.1" lengthAdjust="spacingAndGlyphs">Lon</text>
<text x="514.09" y="53.9" font-size="18.9" textLength="13.1" lengthAdjust="spacingAndGlyphs">−</text>
<text x="532.24" y="53.9" font-size="18.9" textLength="68.08" lengthAdjust="spacingAndGlyphs">58.34°,</text>
<text x="609.36" y="53.9" font-size="18.9" textLength="25.1" lengthAdjust="spacingAndGlyphs">Alt</text>
<text x="640.02" y="53.9" font-size="18.9" textLength="80.16" lengthAdjust="spacingAndGlyphs">434.2km</text>
</svg></body></html>
